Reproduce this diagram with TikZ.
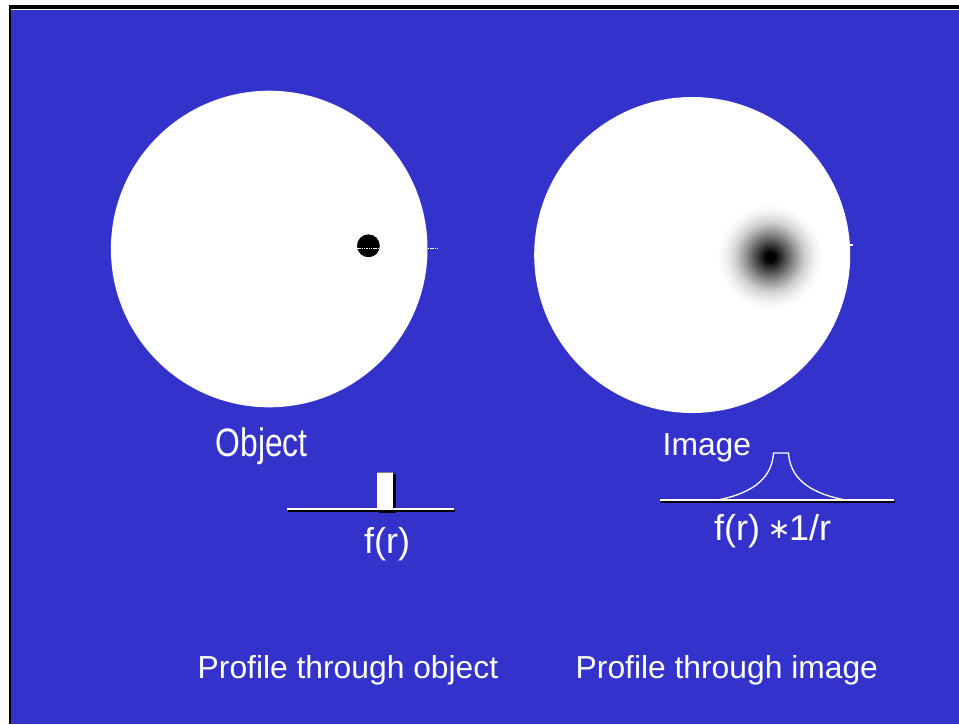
\documentclass[tikz,border=0pt]{standalone}
\usepackage{fontspec}
\setmainfont{Liberation Sans}
\newfontfamily\symbolfont{DejaVu Sans}
\definecolor{slideblue}{RGB}{51,51,204}
\pgfdeclareradialshading{blurspot}{\pgfpoint{0bp}{0bp}}{%
  color(0bp)=(black); color(2bp)=(black); color(6.5bp)=(black!70);
  color(11bp)=(black!42); color(15.5bp)=(black!18); color(20bp)=(black!5);
  color(23.5bp)=(white); color(25bp)=(white); color(50bp)=(white)}
\tikzset{
  lbl/.style={text=white, inner sep=0pt, anchor=base west},
  smalltxt/.style={font=\fontsize{31.8}{32}\selectfont},
  formula/.style={font=\fontsize{36}{36}\selectfont},
  disc/.style={fill=white, draw=none},
  tickmark/.style={draw=white, line width=1.2pt, dash pattern=on 1.5pt off 0.8pt},
  shadowline/.style={draw=black, line width=2pt},
  whiteline/.style={draw=white, line width=2pt},
}
\begin{document}
\begin{tikzpicture}[x=1pt,y=-1pt]
\useasboundingbox (0,0) rectangle (959,724);
\fill[white] (0,0) rectangle (959,724);
% frame
\fill[slideblue] (11,10) rectangle (959,724);
\fill[black] (8.5,5) rectangle (11,724);
\fill[black] (8.5,5) rectangle (959,9);
\draw[white, line width=0.8pt] (11,9.6) -- (959,9.6);
% left disc (object)
\fill[disc] (269.2,249) circle[radius=158.3];
\fill[black] (368.4,245.8) circle[radius=11.4];
\draw[tickmark] (357,248.3) -- (379.5,248.3);
\draw[tickmark] (427.7,248.3) -- (438,248.3);
% right disc (image)
\fill[disc] (692.2,255) circle[radius=158];
\shade[shading=blurspot] (770,256.7) circle[radius=56];
\draw[tickmark] (849,245) -- (853,245);
% labels
\node[lbl, smalltxt] (objlbl) at (215.5,456) {\scalebox{1}[1.25]{Object}};
\node[lbl, smalltxt] (imglbl) at (662.5,455) {Image};
\node[lbl, font=\fontsize{36}{36}\selectfont] (fobj) at (364,553) {f(r)};
\node[lbl, formula] (fimg) at (714,540) {f(r)\hspace{9pt}\makebox[20pt][c]{\raisebox{2pt}{\fontsize{28}{28}\symbolfont ∗}}1/r};
\node[lbl, smalltxt] (profobj) at (197.5,678) {Profile through object};
\node[lbl, smalltxt] (profimg) at (575.5,678) {Profile through image};
% left profile
\draw[shadowline] (288,510.8) -- (455,510.8);
\fill[black] (379,474) rectangle (395.5,513);
\draw[whiteline] (287,508.5) -- (454,508.5);
\fill[white] (377,472) rectangle (393,509);
\draw[gray, line width=0.8pt] (377,472.4) -- (393,472.4);
% right profile
\draw[shadowline] (661,502.2) -- (895,502.2);
\draw[whiteline] (660,500) -- (894,500);
\draw[white, line width=1.3pt] (720,499.5)
  .. controls (756,492) and (772,476) .. (773.5,453)
  -- (788.5,453)
  .. controls (790,476) and (806,492) .. (843,499.5);
\end{tikzpicture}
\end{document}
